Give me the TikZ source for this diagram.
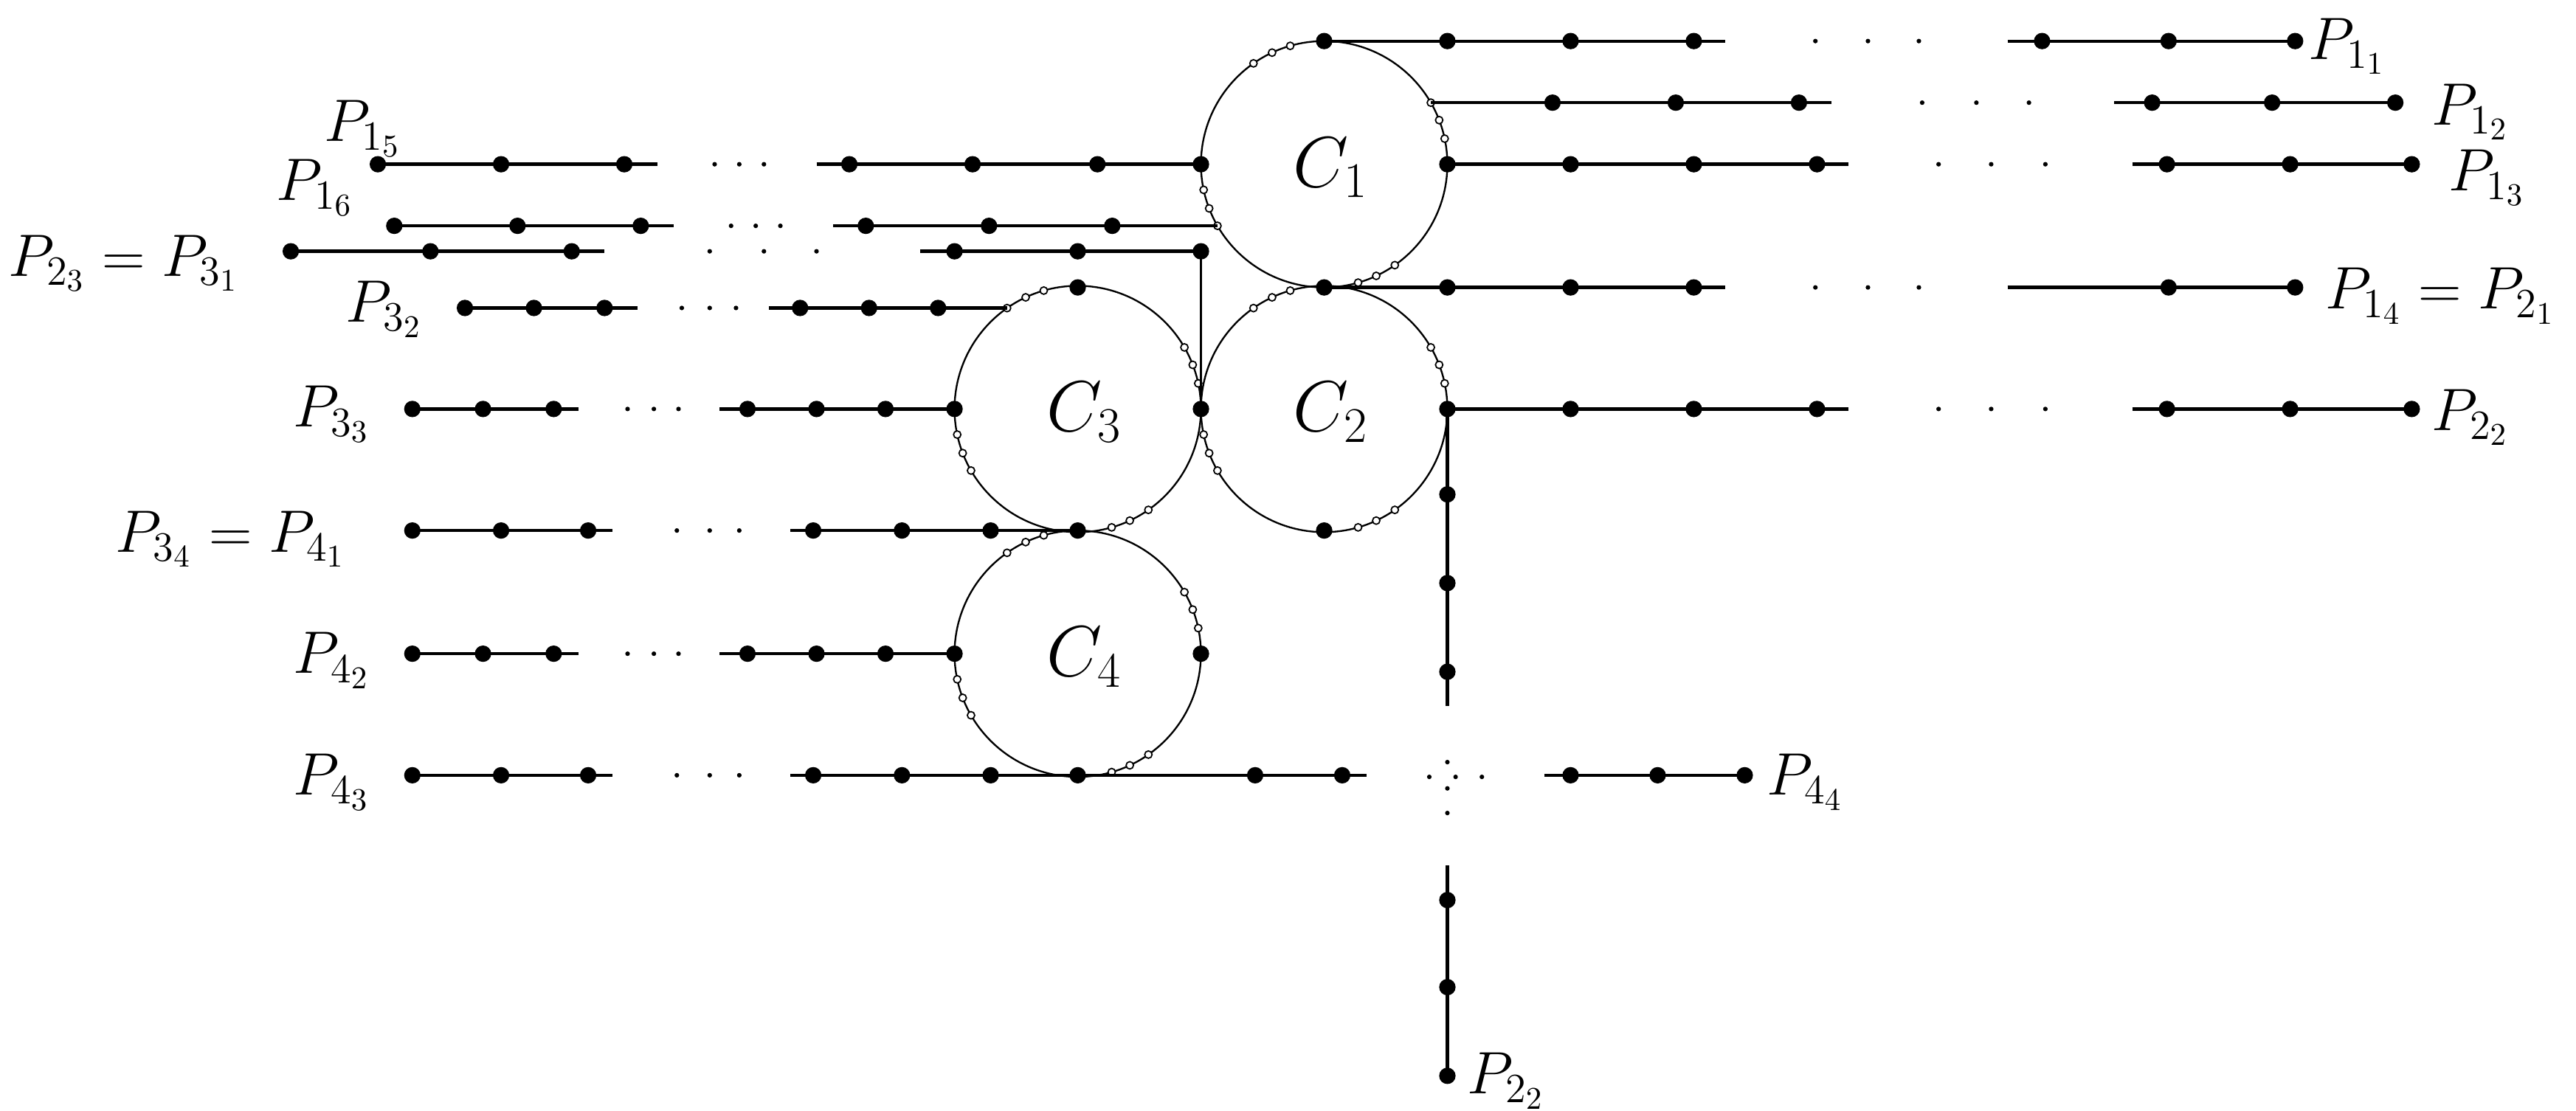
\documentclass[tikz,border=0pt]{standalone}
\begin{document}
\begin{tikzpicture}[x=0.02cm,y=-0.02cm,
  seg/.style={line width=1.1pt},
  circ/.style={line width=0.6pt},
  lab/.style={font=\fontsize{22}{26}\selectfont,inner sep=0pt},
  clab/.style={font=\fontsize{24}{28}\selectfont,inner sep=0pt}]
\useasboundingbox (0,0) rectangle (1568,676);
\newcommand\hrow[5]{%
  \coordinate (#5a) at (#2,#1); \coordinate (#5b) at (#3,#1);
  \draw[seg] (#5a) -- (#5b);
  \foreach \xx in {#4} \fill (\xx,#1) circle[radius=0.1cm];}
\newcommand\myell[2]{\foreach \xx in {#2} \fill (\xx,#1) circle[radius=0.028cm];}
% circles
\foreach \n/\cx/\cy in {1/806/100,2/806/249,3/656/249,4/656/398}{
  \coordinate (C\n) at (\cx,\cy);
  \draw[circ] (C\n) circle[radius=1.5cm];
  \foreach \a in {106,115,125,12,21,30,192,201,210,286,295,305}
    \draw[line width=0.45pt,fill=white] (C\n) ++(\a:1.5cm) circle[radius=0.045cm];
  \node[clab] (LC\n) at (\cx+4,\cy+2) {$C_{\n}$};
}
% right rows
\hrow{25}{806}{1050}{806,881,956,1031}{ra}\myell{25}{1105,1137,1168}
\hrow{25}{1222}{1397}{1243,1320,1397}{rb}
\hrow{62.5}{871}{1115}{945,1020,1095}{rc}\myell{62.5}{1170,1203,1235}
\hrow{62.5}{1287}{1458}{1310,1383,1458}{rd}
\hrow{100}{881}{1125}{881,956,1031,1106}{re}\myell{100}{1180,1212,1245}
\hrow{100}{1298}{1468}{1319,1394,1468}{rf}
\hrow{175}{806}{1050}{806,881,956,1031}{rg}\myell{175}{1105,1137,1168}
\hrow{175}{1222}{1397}{1320,1397}{rh}
\hrow{249}{881}{1125}{881,956,1031,1106}{ri}\myell{249}{1180,1212,1245}
\hrow{249}{1298}{1468}{1319,1394,1468}{rj}
% vertical
\coordinate (va) at (881,249); \coordinate (vb) at (881,430);
\draw[seg] (va) -- (vb);
\foreach \yy in {301,355,409,548,601,655} \fill (881,\yy) circle[radius=0.1cm];
\foreach \yy in {464,480,495} \fill (881,\yy) circle[radius=0.028cm];
\coordinate (vc) at (881,527); \coordinate (vd) at (881,655);
\draw[seg] (vc) -- (vd);
% left rows
\hrow{100}{230}{400}{230,305,380}{la}\myell{100}{435,450,465}
\hrow{100}{497}{731}{517,592,668,731}{lb}
\hrow{137.5}{240}{410}{240,315,390}{lc}\myell{137.5}{445,460,475}
\hrow{137.5}{507}{741}{527,602,677}{ld}
\hrow{153}{177}{368}{177,262,348}{le}\myell{153}{432,465,497}
\hrow{153}{560}{731}{581,656,731}{lf}
\coordinate (lfv) at (731,249); \draw[line width=0.8pt] (lfb) -- (lfv);
\hrow{187.5}{283}{388}{283,325,368}{lg}\myell{187.5}{415,432,448}
\hrow{187.5}{468}{613}{487,529,571}{lh}
\hrow{249}{251}{352}{251,294,337}{li}\myell{249}{382,398,413}
\hrow{249}{438}{581}{455,497,539,581}{lj}
\hrow{323}{251}{373}{251,305,358}{lk}\myell{323}{412,432,450}
\hrow{323}{481}{656}{495,549,603,656}{ll}
\hrow{398}{251}{352}{251,294,337}{lm}\myell{398}{382,398,413}
\hrow{398}{438}{581}{455,497,539,581}{ln}
\hrow{472}{251}{373}{251,305,358}{lo}\myell{472}{412,432,450}
\hrow{472}{481}{832}{495,549,603,656,764,817}{lp}\myell{473}{870,886,902}
\hrow{472}{940}{1062}{956,1009,1062}{lq}
% extra circle points
\foreach \p in {(656,175),(731,249),(806,323),(731,398)} \fill \p circle[radius=0.1cm];
% labels
\node[lab,anchor=base west] (p11) at (1405,36) {$P_{1_1}$};
\node[lab,anchor=base west] (p12) at (1480,76) {$P_{1_2}$};
\node[lab,anchor=base west] (p13) at (1490,116) {$P_{1_3}$};
\node[lab,anchor=base west] (p14) at (1415,188) {$P_{1_4}=P_{2_1}$};
\node[lab,anchor=base west] (p22) at (1480,262) {$P_{2_2}$};
\node[lab,anchor=base west] (p22b) at (893,666) {$P_{2_2}$};
\node[lab,anchor=base west] (p44) at (1075,484) {$P_{4_4}$};
\node[lab,anchor=base west] (p15) at (197,86) {$P_{1_5}$};
\node[lab,anchor=base west] (p16) at (168,122) {$P_{1_6}$};
\node[lab,anchor=base west] (p23) at (5,168) {$P_{2_3}=P_{3_1}$};
\node[lab,anchor=base west] (p32) at (210,196) {$P_{3_2}$};
\node[lab,anchor=base west] (p33) at (178,260) {$P_{3_3}$};
\node[lab,anchor=base west] (p34) at (70,336) {$P_{3_4}=P_{4_1}$};
\node[lab,anchor=base west] (p42) at (178,410) {$P_{4_2}$};
\node[lab,anchor=base west] (p43) at (178,484) {$P_{4_3}$};
\end{tikzpicture}
\end{document}
